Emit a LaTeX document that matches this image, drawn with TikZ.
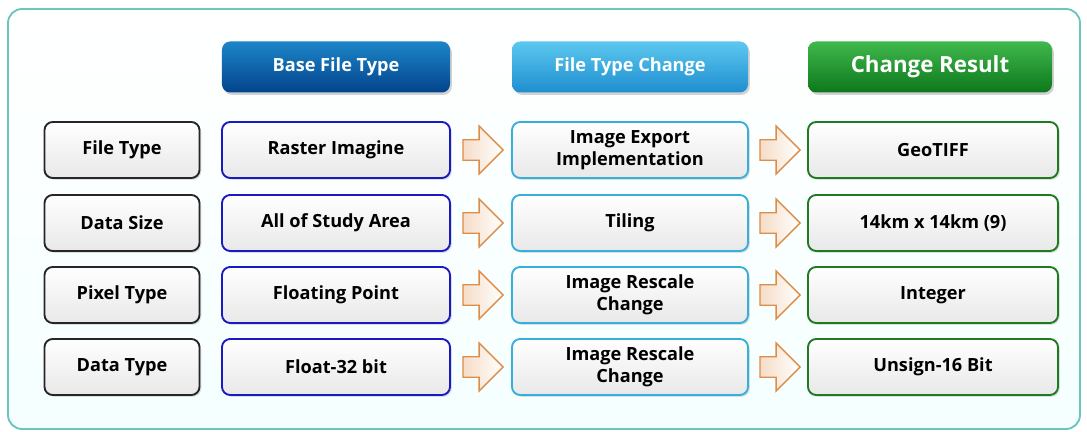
\documentclass[tikz,border=0pt]{standalone}
\usepackage{fontspec}
\setmainfont{Open Sans}
\usetikzlibrary{shapes.arrows,shadows}

\definecolor{frameteal}{HTML}{6CC6BE}
\definecolor{basetop}{HTML}{1C86C8}
\definecolor{basebot}{HTML}{03438C}
\definecolor{chgtop}{HTML}{5CC8F0}
\definecolor{chgbot}{HTML}{1E8ECF}
\definecolor{restop}{HTML}{40B84C}
\definecolor{resbot}{HTML}{0C781C}
\definecolor{baseline}{HTML}{1A1AC4}
\definecolor{chgline}{HTML}{38AEDA}
\definecolor{resline}{HTML}{1F7A22}
\definecolor{arrowline}{HTML}{DE8C46}

\begin{document}
\begin{tikzpicture}[
  x=0.03cm, y=-0.03cm,
  hdrbox/.style={rounded corners=7pt, minimum height=1.53cm, text=white,
    font={\bfseries\fontsize{15.5}{17}\selectfont},
    drop shadow={opacity=0.35, shadow xshift=1.5pt, shadow yshift=-2pt}},
  cellbox/.style={rounded corners=7pt, line width=1.6pt, minimum height=1.68cm,
    top color=white, middle color=white, bottom color=black!9, align=center,
    font={\bfseries\fontsize{15.5}{19}\selectfont},
    drop shadow={opacity=0.25, shadow xshift=1.5pt, shadow yshift=-1.5pt}},
  namebox/.style={cellbox, draw=black!85, minimum width=4.65cm},
  basebox/.style={cellbox, draw=baseline, minimum width=6.84cm},
  chgbox/.style={cellbox, draw=chgline, minimum width=7.08cm},
  resbox/.style={cellbox, draw=resline, minimum width=7.5cm},
  flowarrow/.style={single arrow, anchor=tip, draw=arrowline, line width=1.1pt,
    left color=arrowline!30, right color=white, inner sep=0.29cm,
    minimum height=1.2cm, single arrow head extend=0.41cm}
]
\useasboundingbox (0,0) rectangle (1087,432);
% outer frame
\draw[frameteal, line width=1.6pt, rounded corners=12pt, top color=white, bottom color=cyan!4]
  (8,9) rectangle (1080,429);

% column headers
\node[hdrbox, minimum width=6.84cm, top color=basetop, bottom color=basebot] (hbase) at (336,67) {Base File Type};
\node[hdrbox, minimum width=7.08cm, top color=chgtop, bottom color=chgbot] (hchg) at (630,67) {File Type Change};
\node[hdrbox, minimum width=7.32cm, top color=restop, bottom color=resbot,
  font={\bfseries\fontsize{19}{21}\selectfont}] (hres) at (930,67) {Change Result};

% rows
\node[namebox] (n1) at (122,150) {File Type};
\node[namebox] (n2) at (122,223) {Data Size};
\node[namebox] (n3) at (122,295) {Pixel Type};
\node[namebox] (n4) at (122,367) {Data Type};

\node[basebox] (b1) at (336,150) {Raster Imagine};
\node[basebox] (b2) at (336,223) {All of Study Area};
\node[basebox] (b3) at (336,295) {Floating Point};
\node[basebox] (b4) at (336,367) {Float-32 bit};

\node[chgbox] (c1) at (630,150) {Image Export\\Implementation};
\node[chgbox] (c2) at (630,223) {Tiling};
\node[chgbox] (c3) at (630,295) {Image Rescale\\Change};
\node[chgbox] (c4) at (630,367) {Image Rescale\\Change};

\node[resbox] (r1) at (933,150) {GeoTIFF};
\node[resbox] (r2) at (933,223) {14km x 14km (9)};
\node[resbox] (r3) at (933,295) {Integer};
\node[resbox] (r4) at (933,367) {Unsign-16 Bit};

% arrows between columns
\foreach \i/\y in {1/150, 2/223, 3/295, 4/367} {
  \node[flowarrow] (a\i) at (504,\y) {};
  \node[flowarrow] (z\i) at (801,\y) {};
}
\end{tikzpicture}
\end{document}
